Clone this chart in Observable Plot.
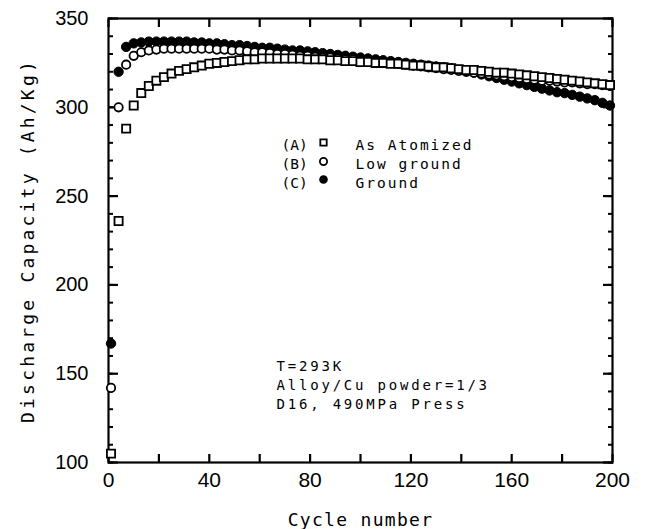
<!DOCTYPE html>
<html><head><meta charset="utf-8">
<script src="https://cdn.jsdelivr.net/npm/d3@7"></script>
<script src="https://cdn.jsdelivr.net/npm/@observablehq/plot@0.6"></script>
<style>
body{margin:0;background:#fff}
#chart svg{display:block}
</style></head><body><div id="chart"></div><script>
const cycles = [1,4,7,10,13,16,19,22,25,28,
  31,34,37,40,43,46,49,52,55,58,
  61,64,67,70,73,76,79,82,85,88,
  91,94,97,100,103,106,109,112,115,118,
  121,124,127,130,133,136,139,142,145,148,
  151,154,157,160,163,166,169,172,175,178,
  181,184,187,190,193,196,199];
const asAtomized = [105,236,288,301,308,312,315,317,319,320.5,
  321.5,322.5,323.5,324.5,325,325.5,326,326.5,327,327,
  327.5,327.5,327.5,327.5,327.5,327.5,327,327,327,326.5,
  326.5,326,326,325.5,325.5,325,325,324.5,324.5,324,
  323.5,323.5,323,322.5,322.5,322,321.5,321,321,320.5,
  320,319.5,319.5,319,318.5,318,317.5,317,316.5,316,
  315.5,315,314.5,314,313.5,313,312.5];
const lowGround = [142,300,324,329,331,332,332.5,333,333,333,
  333,333,333,333,332.5,332.5,332,332,331.5,331,
  331,330.5,330,330,329.5,329,329,328.5,328,328,
  327.5,327,327,326.5,326,325.5,325,325,324.5,324,
  323.5,323,322.5,322,321.5,321,320.5,320,319.5,319,
  318.5,318,317.5,317,316.5,316,315.5,315,315,314.5,
  314,314,313.5,313,313,312.5,312];
const ground = [167,320,334,336,336.5,337,337,337,337,337,
  337,336.5,336.5,336,336,335.5,335,335,334.5,334,
  333.5,333.5,333,332.5,332,332,331.5,331,330.5,330,
  329.5,329,328.5,328,327.5,327,326.5,326,325.5,325,
  324.5,324,323.5,323,322.5,322,321,320.5,319.5,318.5,
  317.5,316.5,315.5,314.5,313.5,312.5,311.5,310.5,309.5,308.5,
  308,307,306,305,304,302.5,301];
const xMinorTicks = [0,20,40,60,80,100,120,140,160,180,200];
const xLabelTicks = [0,40,80,120,160,200];
const yMinorTicks = [100,110,120,130,140,150,160,170,180,190,200,210,220,230,240,250,260,270,280,290,300,310,320,330,340,350];
const yMajorTicks = [100,150,200,250,300,350];
const legendCodes = ["(A)","(B)","(C)"];
const legendNames = ["As Atomized","Low ground","Ground"];
const notes = ["T=293K","Alloy/Cu powder=1/3","D16, 490MPa Press"];
const xTitle = "Cycle number";
const yTitle = "Discharge Capacity (Ah/Kg)";

const A = cycles.map((c,i)=>({x:c,y:asAtomized[i]}));
const B = cycles.map((c,i)=>({x:c,y:lowGround[i]}));
const C = cycles.map((c,i)=>({x:c,y:ground[i]}));
const mono = "DejaVu Sans Mono, Liberation Mono, monospace";
const blank = () => "";

const chart = Plot.plot({
  width: 646, height: 529,
  marginLeft: 108, marginRight: 34, marginTop: 18, marginBottom: 67,
  x: {domain: [0, 200]},
  y: {domain: [100, 350]},
  style: {fontFamily: "Liberation Sans, Arial, sans-serif", fontSize: "20px", color: "#000", background: "#fff"},
  marks: [
    Plot.frame({stroke: "#000", strokeWidth: 2.2}),
    // inward ticks: drawn outward by the axis, then shifted inward by their own length
    Plot.axisX({anchor: "bottom", ticks: xMinorTicks, tickSize: 8, dy: -8, tickFormat: blank, label: null, strokeWidth: 2.2}),
    Plot.axisX({anchor: "top", ticks: xMinorTicks, tickSize: 8, dy: 8, tickFormat: blank, label: null, strokeWidth: 2.2}),
    Plot.axisX({anchor: "bottom", ticks: xLabelTicks, tickSize: 0, tickPadding: 10, label: null, fontSize: 21}),
    Plot.axisY({anchor: "left", ticks: yMinorTicks, tickSize: 5, dx: 5, tickFormat: blank, label: null, strokeWidth: 2}),
    Plot.axisY({anchor: "right", ticks: yMinorTicks, tickSize: 5, dx: -5, tickFormat: blank, label: null, strokeWidth: 2}),
    Plot.axisY({anchor: "left", ticks: yMajorTicks, tickSize: 10, dx: 10, tickFormat: blank, label: null, strokeWidth: 2.2}),
    Plot.axisY({anchor: "right", ticks: yMajorTicks, tickSize: 10, dx: -10, tickFormat: blank, label: null, strokeWidth: 2.2}),
    Plot.axisY({anchor: "left", ticks: yMajorTicks, tickSize: 0, tickPadding: 20, label: null, fontSize: 20}),
    Plot.dot(C, {x: "x", y: "y", r: 4.7, fill: "#000", stroke: "#000", strokeWidth: 1}),
    Plot.dot(B, {x: "x", y: "y", r: 4.2, fill: "#fff", stroke: "#000", strokeWidth: 1.8}),
    Plot.dot(A, {x: "x", y: "y", symbol: "square", r: 4.6, fill: "#fff", stroke: "#000", strokeWidth: 1.8}),
    Plot.text([legendCodes.join("\n")], {frameAnchor: "top-left", dx: 173, dy: 118, textAnchor: "start", lineAnchor: "top", lineHeight: 1.31, fontFamily: mono, fontSize: 14.5, fill: "#000"}),
    Plot.text([legendNames.join("\n")], {frameAnchor: "top-left", dx: 247, dy: 118, textAnchor: "start", lineAnchor: "top", lineHeight: 1.31, fontFamily: mono, fontSize: 14.5, fill: "#000"}),
    Plot.dot([legendNames[0]], {frameAnchor: "top-left", dx: 215, dy: 124, symbol: "square", r: 3.6, fill: "#fff", stroke: "#000", strokeWidth: 1.8}),
    Plot.dot([legendNames[1]], {frameAnchor: "top-left", dx: 215, dy: 143, r: 3.6, fill: "#fff", stroke: "#000", strokeWidth: 1.8}),
    Plot.dot([legendNames[2]], {frameAnchor: "top-left", dx: 215, dy: 161, r: 4.3, fill: "#000"}),
    Plot.text([notes.join("\n")], {frameAnchor: "top-left", dx: 168, dy: 339, textAnchor: "start", lineAnchor: "top", lineHeight: 1.36, fontFamily: mono, fontSize: 14, fill: "#000"}),
    Plot.text([xTitle], {frameAnchor: "bottom", dy: 58, textAnchor: "middle", lineAnchor: "middle", fontFamily: mono, fontSize: 18, fill: "#000"}),
    Plot.text([yTitle], {frameAnchor: "left", dx: -80, rotate: -90, textAnchor: "middle", lineAnchor: "middle", fontFamily: mono, fontSize: 18, fill: "#000"})
  ]
});
// typewriter-like letter spacing for the monospace texts
const spacing = new Map([
  [legendNames.join(""), 2], [notes.join(""), 2.8],
  [xTitle, 1.3], [yTitle, 3.2]
]);
d3.select(chart).selectAll("text").each(function() {
  const s = spacing.get(this.textContent);
  if (s !== undefined) this.setAttribute("letter-spacing", s);
});
document.getElementById("chart").appendChild(chart);
</script></body></html>
